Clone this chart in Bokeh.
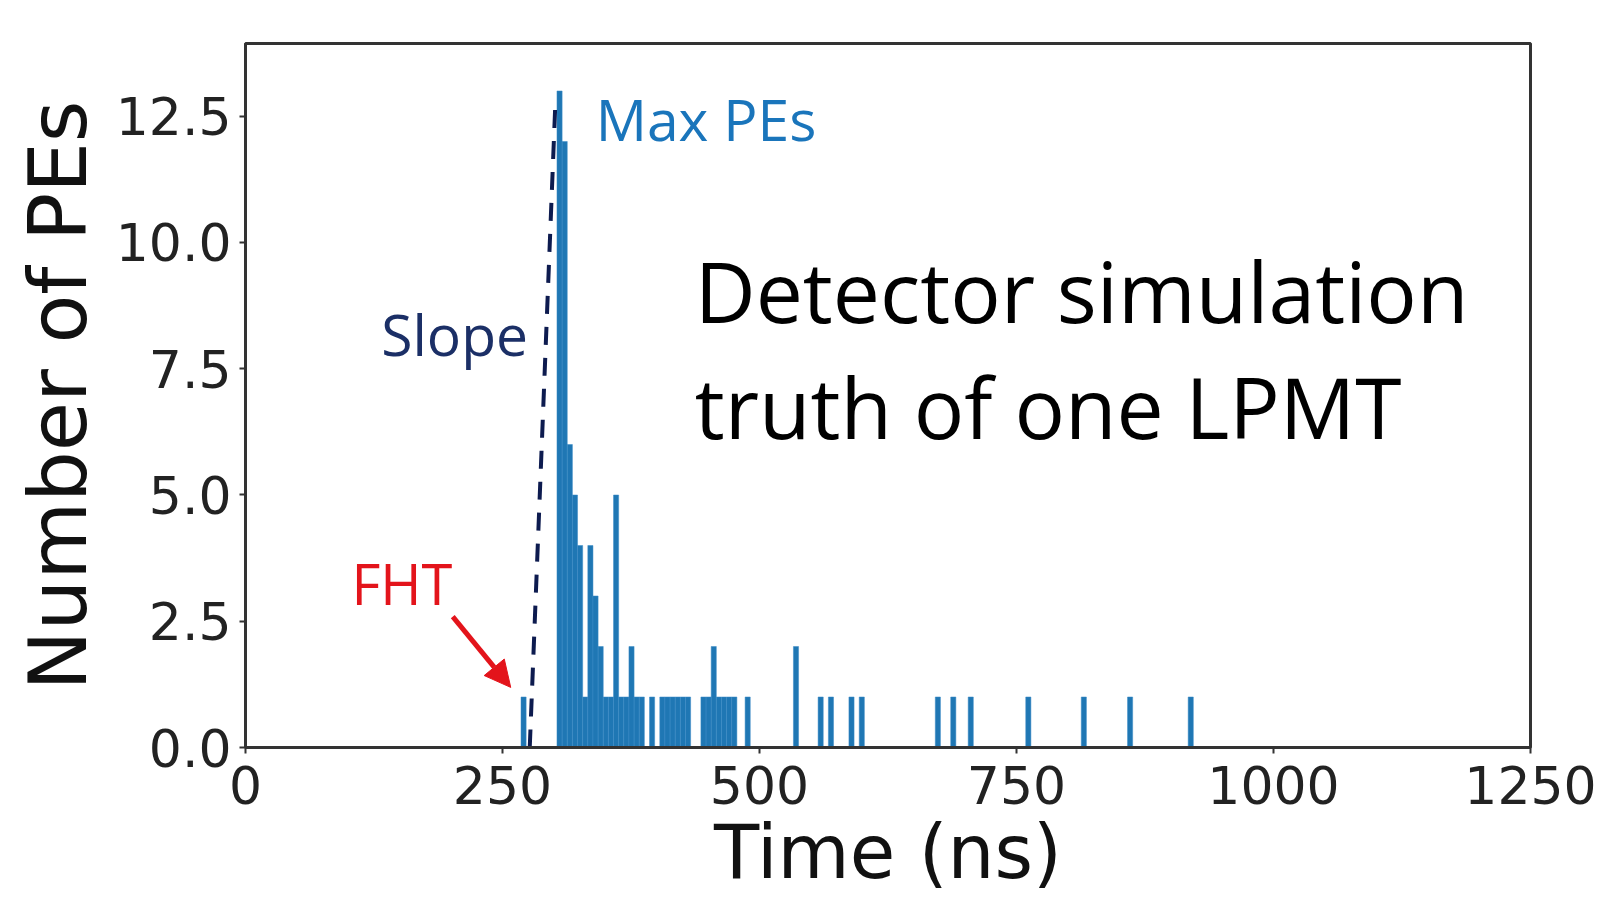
from bokeh.plotting import figure
from bokeh.models import (Range1d, FixedTicker, NumeralTickFormatter, Label, Arrow,
                          NormalHead, ColumnDataSource)
from bokeh.embed import file_html
from bokeh.resources import INLINE

# ---- data ----
bin_width = 5  # ns
bin_left = [268, 303, 308, 313, 318, 323, 328, 333, 338, 343, 348, 353, 358, 363, 368,
            373, 378, 383, 393, 403, 408, 413, 418, 423, 428, 443, 448, 453, 458, 463,
            468, 473, 486, 533, 557, 567, 587, 597, 671, 686, 703, 759, 813, 858, 917]
counts = [1, 13, 12, 6, 5, 4, 1, 4, 3, 2, 1, 1, 5, 1, 1,
          2, 1, 1, 1, 1, 1, 1, 1, 1, 1, 1, 1, 2, 1, 1,
          1, 1, 1, 2, 1, 1, 1, 1, 1, 1, 1, 1, 1, 1, 1]
slope_t = [276.5, 301.5]
slope_n = [0.0, 12.8]
x_ticks = [0, 250, 500, 750, 1000, 1250]
y_ticks = [0.0, 2.5, 5.0, 7.5, 10.0, 12.5]

centers = [b + bin_width / 2 for b in bin_left]
src = ColumnDataSource(dict(x=centers, top=counts))

p = figure(width=1603, height=900, output_backend="svg", toolbar_location=None,
           x_range=Range1d(0, 1250), y_range=Range1d(0, 13.94),
           min_border_left=245, min_border_right=73, min_border_top=43,
           min_border_bottom=153)
p.background_fill_color = "white"
p.border_fill_color = "white"
p.grid.visible = False
p.outline_line_color = "#333333"
p.outline_line_width = 3

p.vbar(x="x", top="top", width=bin_width, bottom=0, source=src,
       fill_color="#1f77b4", line_color="#3a8bc6", line_width=0.5)

p.line(slope_t, slope_n, line_color="#0d1b4f", line_width=4, line_dash="18 13")

ax_font = "DejaVu Sans"
p.xaxis.ticker = FixedTicker(ticks=x_ticks)
p.yaxis.ticker = FixedTicker(ticks=y_ticks)
p.yaxis.formatter = NumeralTickFormatter(format="0.0")
for ax in (p.xaxis, p.yaxis):
    ax.axis_line_color = "#333333"
    ax.axis_line_width = 3
    ax.major_tick_line_color = "#333333"
    ax.major_tick_line_width = 2
    ax.major_tick_out = 6
    ax.major_tick_in = 0
    ax.minor_tick_line_color = None
    ax.major_label_text_font = ax_font
    ax.major_label_text_font_size = "52px"
    ax.major_label_text_color = "#222222"
    ax.axis_label_text_font = ax_font
    ax.axis_label_text_font_style = "normal"
    ax.axis_label_text_color = "#111111"
p.xaxis.major_label_standoff = 12
p.yaxis.major_label_standoff = 8
p.xaxis.axis_label = "Time (ns)"
p.yaxis.axis_label = "Number of PEs"
p.xaxis.axis_label_text_font_size = "74px"
p.yaxis.axis_label_text_font_size = "80px"
p.xaxis.axis_label_standoff = 2
p.yaxis.axis_label_standoff = 8

txt_font = "Open Sans"


def note(x, y, text, size, color):
    p.add_layout(Label(x=x, y=y, text=text, text_font=txt_font, text_font_size=size,
                       text_color=color, text_baseline="alphabetic"))


note(340.6, 12.45, "Max PEs", "57px", "#1a75bb")
note(437, 9.04, "Detector simulation", "84px", "#000000")
note(437, 6.76, "truth of one LPMT", "84px", "#000000")
note(132, 8.19, "Slope", "57px", "#1b2f66")
note(103, 3.26, "FHT", "56px", "#e3141b")
p.add_layout(Arrow(x_start=201.6, y_start=2.59, x_end=258, y_end=1.19,
                   line_color="#e3141b", line_width=5,
                   end=NormalHead(size=26, fill_color="#e3141b", line_color="#e3141b")))

open("out.html", "w").write(file_html(p, INLINE))
